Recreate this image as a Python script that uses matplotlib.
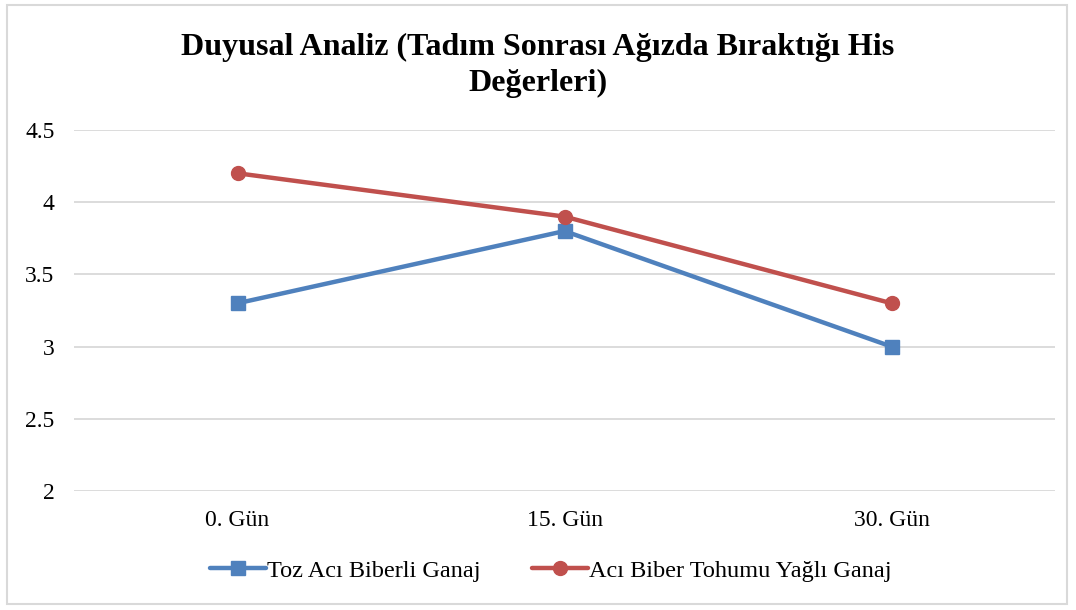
import matplotlib
matplotlib.use("Agg")
import matplotlib.pyplot as plt
from matplotlib.patches import Rectangle

# data
days = ["0. Gün", "15. Gün", "30. Gün"]
toz_aci = [3.3, 3.8, 3.0]
tohum_yagli = [4.2, 3.9, 3.3]
series_names = ["Toz Acı Biberli Ganaj", "Acı Biber Tohumu Yağlı Ganaj"]
y_ticks = [2, 2.5, 3, 3.5, 4, 4.5]
y_labels = ["2", "2.5", "3", "3.5", "4", "4.5"]

plt.rcParams['font.family'] = ['Liberation Serif', 'DejaVu Serif']

fig = plt.figure(figsize=(10.76, 6.10), dpi=100)
ax = fig.add_axes([0.0688, 0.195, 0.9117, 0.592])

fig.patches.append(Rectangle((7 / 1076, 6 / 610), 1060 / 1076, 599 / 610,
                             transform=fig.transFigure, fill=False,
                             edgecolor="#D9D9D9", linewidth=1.5))

x = range(len(days))
ax.plot(x, toz_aci, color="#4F81BD", lw=3.2, marker="s", ms=10,
        label=series_names[0], solid_capstyle="round")
ax.plot(x, tohum_yagli, color="#C0504D", lw=3.2, marker="o", ms=10,
        label=series_names[1], solid_capstyle="round")

ax.set_xlim(-0.5, 2.5)
ax.set_ylim(2, 4.5)
ax.set_yticks(y_ticks)
ax.set_yticklabels(y_labels, fontsize=17)
ax.set_xticks(list(x))
ax.set_xticklabels(days, fontsize=17)
ax.tick_params(length=0)
ax.tick_params(axis="y", pad=14)
ax.tick_params(axis="x", pad=14)
ax.grid(axis="y", color="#D9D9D9", lw=1.3)
ax.set_axisbelow(True)
for s in ax.spines.values():
    s.set_visible(False)

fig.text(0.5, 0.893, "Duyusal Analiz (Tadım Sonrası Ağızda Bıraktığı His\nDeğerleri)",
         ha="center", va="center", fontsize=23, fontweight="bold", linespacing=1.3)

fig.legend(loc="center", bbox_to_anchor=(0.512, 0.064), ncol=2, frameon=False,
           fontsize=17.5, handlelength=2.3, handletextpad=0.05, columnspacing=2.1)

fig.savefig("out.png", dpi=100)
